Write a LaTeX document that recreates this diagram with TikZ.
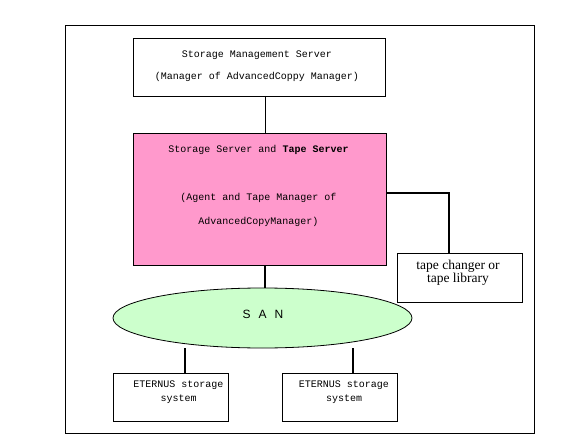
\documentclass[tikz,border=0pt]{standalone}
\usepackage{fontspec}
\usepackage{tikz}
\usetikzlibrary{positioning,shapes.geometric,backgrounds}
\newfontfamily\gothic{Liberation Mono}
\newfontfamily\mincho{Liberation Serif}
\newfontfamily\sanfont{Liberation Sans}
\definecolor{srvpink}{RGB}{255,153,204}
\definecolor{sangreen}{RGB}{204,255,204}
\tikzset{
  box/.style={draw,line width=0.8pt,inner sep=0pt,outer sep=0pt},
  gtxt/.style={align=center,inner sep=0pt},
  link/.style={line width=0.8pt},
  tlink/.style={line width=2pt}
}

\begin{document}
\begin{tikzpicture}[x=1pt,y=-1pt]
\useasboundingbox (0,0) rectangle (577,443);
\draw[link] (65,25) rectangle (534,433);
% boxes
\node[box,minimum width=252,minimum height=58] (mgr) at (259,67) {};
\node[box,fill=srvpink,minimum width=253,minimum height=132] (srv) at (259.5,199) {};
\node[box,minimum width=125,minimum height=49] (tape) at (459.5,277.5) {};
\node[box,ellipse,fill=sangreen,minimum width=299,minimum height=60] (san) at (262.5,318) {};
\node[box,minimum width=115,minimum height=48] (eter1) at (170.5,397) {};
\node[box,minimum width=115,minimum height=48] (eter2) at (339.5,397) {};
% texts
\node[gtxt,font=\gothic\fontsize{10}{22}\selectfont] (mgr-t) at (257,66)
  {Storage Management Server\\(Manager of AdvancedCoppy Manager)};
\node[gtxt,font=\gothic\fontsize{10}{24}\selectfont] (srv-t) at (258.5,186)
  {Storage Server and \textbf{Tape Server}\\[24pt](Agent and Tape Manager of\\AdvancedCopyManager)};
\node[gtxt,font=\mincho\fontsize{13.5}{13}\selectfont] (tape-t) at (458,272.5)
  {tape changer or\\tape library};
\node[gtxt,font=\sanfont\fontsize{12}{14}\selectfont] (san-t) at (263,314)
  {S\kern8pt A\kern8pt N};
\node[gtxt,font=\gothic\fontsize{10}{14}\selectfont] (eter1-t) at (178.5,392)
  {ETERNUS storage\\system};
\node[gtxt,font=\gothic\fontsize{10}{14}\selectfont] (eter2-t) at (344,392)
  {ETERNUS storage\\system};
% connectors
\draw[link] ([xshift=6pt]mgr.south) -- ([xshift=6pt]mgr.south |- srv.north);
\draw[tlink] ([xshift=5.5pt]srv.south) -- ([xshift=5.5pt]srv.south |- san.north);
\draw[tlink] ([yshift=6pt]srv.east) -| ([xshift=-10.5pt]tape.north);
\begin{scope}[on background layer]
\draw[tlink] ([xshift=14.5pt]eter1.north) -- ([xshift=14.5pt]eter1.north |- san.south);
\draw[tlink] ([xshift=13.5pt]eter2.north) -- ([xshift=13.5pt]eter2.north |- san.south);
\end{scope}
\end{tikzpicture}
\end{document}
